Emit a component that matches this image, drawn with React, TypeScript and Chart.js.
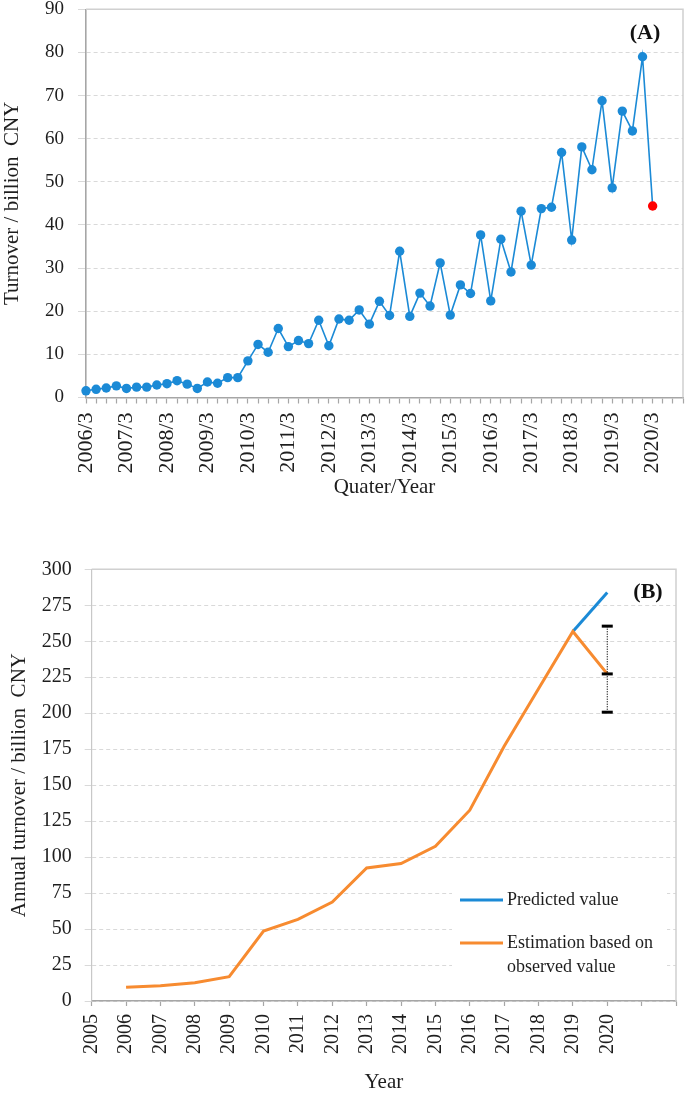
import React, { useEffect, useRef } from 'react';
import { Chart, registerables } from 'chart.js';

Chart.register(...registerables);

// ---------- Panel A data ----------
const years = [2006, 2007, 2008, 2009, 2010, 2011, 2012, 2013, 2014, 2015, 2016, 2017, 2018, 2019, 2020];
const quarterLabels = years.flatMap((y) => [`${y}/3`, `${y}/6`, `${y}/9`, `${y}/12`]);
const turnover = [
  1.55, 1.9, 2.2, 2.7, 2.1, 2.4, 2.4, 2.9, 3.2, 3.9,
  3.1, 2.1, 3.6, 3.3, 4.6, 4.6, 8.5, 12.3, 10.5, 16.0,
  11.8, 13.2, 12.5, 17.9, 12.0, 18.2, 17.9, 20.3, 17.0, 22.3,
  19.0, 33.9, 18.8, 24.2, 21.2, 31.2, 19.1, 26.1, 24.1, 37.7,
  22.4, 36.7, 29.1, 43.2, 30.7, 43.8, 44.1, 56.8, 36.5, 58.1,
  52.8, 68.8, 48.6, 66.4, 61.8, 79.0, 44.4,
];
const yTicksA = { min: 0, max: 90, step: 10 };

// ---------- Panel B data ----------
const annualLabels = [
  '2005', '2006', '2007', '2008', '2009', '2010', '2011', '2012', '2013',
  '2014', '2015', '2016', '2017', '2018', '2019', '2020', '', '',
];
const estimation = [
  null, 9.5, 10.6, 12.7, 16.9, 48.6, 56.7, 68.8, 92.5,
  95.5, 107.5, 132.6, 177, 217, 256.8, 227.3,
];
const predicted = [
  null, null, null, null, null, null, null, null, null,
  null, null, null, null, null, 256.8, 283.9,
];
const errorYear = '2020';
const errorHigh = 260.5;
const errorMid = 227.3;
const errorLow = 200.7;
const yTicksB = { min: 0, max: 300, step: 25 };

const FONT = "'Liberation Serif', 'Times New Roman', serif";
const TEXT = '#1e1e1e';
const BLUE = '#1b8ad6';
const ORANGE = '#f78b30';
const RED = '#ff0000';
const GRID = '#d9d9d9';
const AXIS = '#a6a6a6';

const boxPlugin = {
  id: 'box',
  beforeDatasetsDraw(chart: any) {
    const { ctx, chartArea: a } = chart;
    ctx.save();
    ctx.strokeStyle = '#d0d0d0';
    ctx.lineWidth = 1.5;
    ctx.beginPath();
    ctx.moveTo(a.left, a.top);
    ctx.lineTo(a.right, a.top);
    ctx.lineTo(a.right, a.bottom);
    ctx.stroke();
    ctx.restore();
  },
};

function ChartA() {
  const ref = useRef<HTMLCanvasElement>(null);
  useEffect(() => {
    const panelPlugin = {
      id: 'panelA',
      afterDatasetsDraw(chart: any) {
        const { ctx } = chart;
        ctx.save();
        ctx.fillStyle = '#111';
        ctx.font = `bold 22px ${FONT}`;
        ctx.textAlign = 'center';
        ctx.textBaseline = 'middle';
        ctx.fillText('(A)', 645, 33);
        ctx.restore();
      },
    };
    const chart = new Chart(ref.current as HTMLCanvasElement, {
      type: 'line',
      data: {
        labels: quarterLabels,
        datasets: [
          {
            data: turnover,
            borderColor: BLUE,
            borderWidth: 1.6,
            pointRadius: 4.7,
            pointBorderWidth: 0,
            pointBackgroundColor: (c: any) => (c.dataIndex === turnover.length - 1 ? RED : BLUE),
            pointBorderColor: (c: any) => (c.dataIndex === turnover.length - 1 ? RED : BLUE),
            tension: 0,
            clip: false as any,
          },
        ],
      },
      options: {
        animation: false,
        responsive: false,
        maintainAspectRatio: false,
        events: [],
        layout: { padding: { top: 9.3, right: 5, left: 0, bottom: 0 } },
        plugins: { legend: { display: false }, tooltip: { enabled: false } },
        scales: {
          x: {
            type: 'category',
            offset: false,
            grid: { display: true, drawOnChartArea: false, drawTicks: true, tickLength: 6, tickColor: AXIS, tickWidth: 1.2 },
            border: { color: AXIS, width: 1.6 },
            ticks: {
              autoSkip: false,
              maxRotation: 90,
              minRotation: 90,
              padding: 9,
              color: TEXT,
              font: { family: FONT, size: 22 },
              callback: (_v: any, i: number) => (quarterLabels[i].endsWith('/3') ? quarterLabels[i] : ''),
            },
            title: { display: true, text: 'Quater/Year', color: TEXT, font: { family: FONT, size: 21 }, padding: 0 },
            afterFit: (s: any) => {
              s.height = 102.5;
              s.paddingLeft = 0;
              s.paddingRight = 0;
            },
          },
          y: {
            min: yTicksA.min,
            max: yTicksA.max,
            ticks: { stepSize: yTicksA.step, padding: 14, color: TEXT, font: { family: FONT, size: 19 } },
            grid: { color: GRID, tickColor: GRID, tickLength: 8, lineWidth: 1 },
            border: { color: AXIS, width: 1.6, dash: [4, 3] },
            title: { display: true, text: 'Turnover / billion  CNY', color: TEXT, font: { family: FONT, size: 21 }, padding: 0 },
            afterFit: (s: any) => {
              s.width = 86;
              s.paddingTop = 0;
              s.paddingBottom = 0;
            },
          },
        },
      },
      plugins: [boxPlugin, panelPlugin],
    } as any);
    return () => chart.destroy();
  }, []);
  return (
    <canvas
      ref={ref}
      width={688}
      height={500}
      style={{ position: 'absolute', left: 0, top: 0, width: 688, height: 500 }}
    />
  );
}

function ChartB() {
  const ref = useRef<HTMLCanvasElement>(null);
  useEffect(() => {
    const panelPlugin = {
      id: 'panelB',
      afterDatasetsDraw(chart: any) {
        const { ctx, scales } = chart;
        const top = 550; // canvas offset on the page
        ctx.save();
        ctx.fillStyle = '#111';
        ctx.font = `bold 22px ${FONT}`;
        ctx.textAlign = 'center';
        ctx.textBaseline = 'middle';
        ctx.fillText('(B)', 648, 592 - top);

        // error bar
        const ex = scales.x.getPixelForValue(annualLabels.indexOf(errorYear));
        const yH = scales.y.getPixelForValue(errorHigh);
        const yM = scales.y.getPixelForValue(errorMid);
        const yL = scales.y.getPixelForValue(errorLow);
        ctx.strokeStyle = '#000';
        ctx.lineWidth = 1;
        ctx.setLineDash([1.2, 1.3]);
        ctx.beginPath();
        ctx.moveTo(ex, yH);
        ctx.lineTo(ex, yL);
        ctx.stroke();
        ctx.setLineDash([]);
        ctx.lineWidth = 3;
        [yH, yM, yL].forEach((yy) => {
          ctx.beginPath();
          ctx.moveTo(ex - 5.5, yy);
          ctx.lineTo(ex + 5.5, yy);
          ctx.stroke();
        });

        // legend
        ctx.fillStyle = '#ffffff';
        ctx.fillRect(452, 876 - top, 215, 116);
        ctx.lineWidth = 3;
        ctx.strokeStyle = BLUE;
        ctx.beginPath();
        ctx.moveTo(460, 900 - top);
        ctx.lineTo(503, 900 - top);
        ctx.stroke();
        ctx.strokeStyle = ORANGE;
        ctx.beginPath();
        ctx.moveTo(460, 943 - top);
        ctx.lineTo(503, 943 - top);
        ctx.stroke();
        ctx.fillStyle = TEXT;
        ctx.font = `18px ${FONT}`;
        ctx.textAlign = 'left';
        ctx.textBaseline = 'middle';
        ctx.fillText('Predicted value', 507, 900 - top);
        ctx.fillText('Estimation based on', 507, 943 - top);
        ctx.fillText('observed value', 507, 967 - top);
        ctx.restore();
      },
    };
    const chart = new Chart(ref.current as HTMLCanvasElement, {
      type: 'line',
      data: {
        labels: annualLabels,
        datasets: [
          {
            label: 'Predicted value',
            data: predicted,
            borderColor: BLUE,
            borderWidth: 3,
            pointRadius: 0,
            tension: 0,
            order: 2,
          },
          {
            label: 'Estimation based on observed value',
            data: estimation,
            borderColor: ORANGE,
            borderWidth: 3,
            pointRadius: 0,
            tension: 0,
            order: 1,
          },
        ],
      },
      options: {
        animation: false,
        responsive: false,
        maintainAspectRatio: false,
        events: [],
        layout: { padding: { top: 19.3, right: 12, left: 7, bottom: 0 } },
        plugins: { legend: { display: false }, tooltip: { enabled: false } },
        scales: {
          x: {
            type: 'category',
            offset: false,
            grid: { display: true, drawOnChartArea: false, drawTicks: true, tickLength: 5, tickColor: AXIS, tickWidth: 1.2 },
            border: { color: AXIS, width: 1.6 },
            ticks: {
              autoSkip: false,
              maxRotation: 90,
              minRotation: 90,
              padding: 8,
              color: TEXT,
              font: { family: FONT, size: 20 },
            },
            title: { display: true, text: 'Year', color: TEXT, font: { family: FONT, size: 21 }, padding: 0 },
            afterFit: (s: any) => {
              s.height = 94;
              s.paddingLeft = 0;
              s.paddingRight = 0;
            },
          },
          y: {
            min: yTicksB.min,
            max: yTicksB.max,
            ticks: { stepSize: yTicksB.step, padding: 13, color: TEXT, font: { family: FONT, size: 20 } },
            grid: { color: GRID, tickColor: GRID, tickLength: 7, lineWidth: 1 },
            border: { color: '#c8c8c8', width: 1.2, dash: [4, 3] },
            title: { display: true, text: 'Annual turnover / billion  CNY', color: TEXT, font: { family: FONT, size: 21 }, padding: 0 },
            afterFit: (s: any) => {
              s.width = 84.7;
              s.paddingTop = 0;
              s.paddingBottom = 0;
            },
          },
        },
      },
      plugins: [boxPlugin, panelPlugin],
    } as any);
    return () => chart.destroy();
  }, []);
  return (
    <canvas
      ref={ref}
      width={688}
      height={545}
      style={{ position: 'absolute', left: 0, top: 550, width: 688, height: 545 }}
    />
  );
}

export default function App() {
  return (
    <div style={{ position: 'absolute', left: 0, top: 0, width: 688, height: 1095, background: '#ffffff', overflow: 'hidden' }}>
      <ChartA />
      <ChartB />
    </div>
  );
}
